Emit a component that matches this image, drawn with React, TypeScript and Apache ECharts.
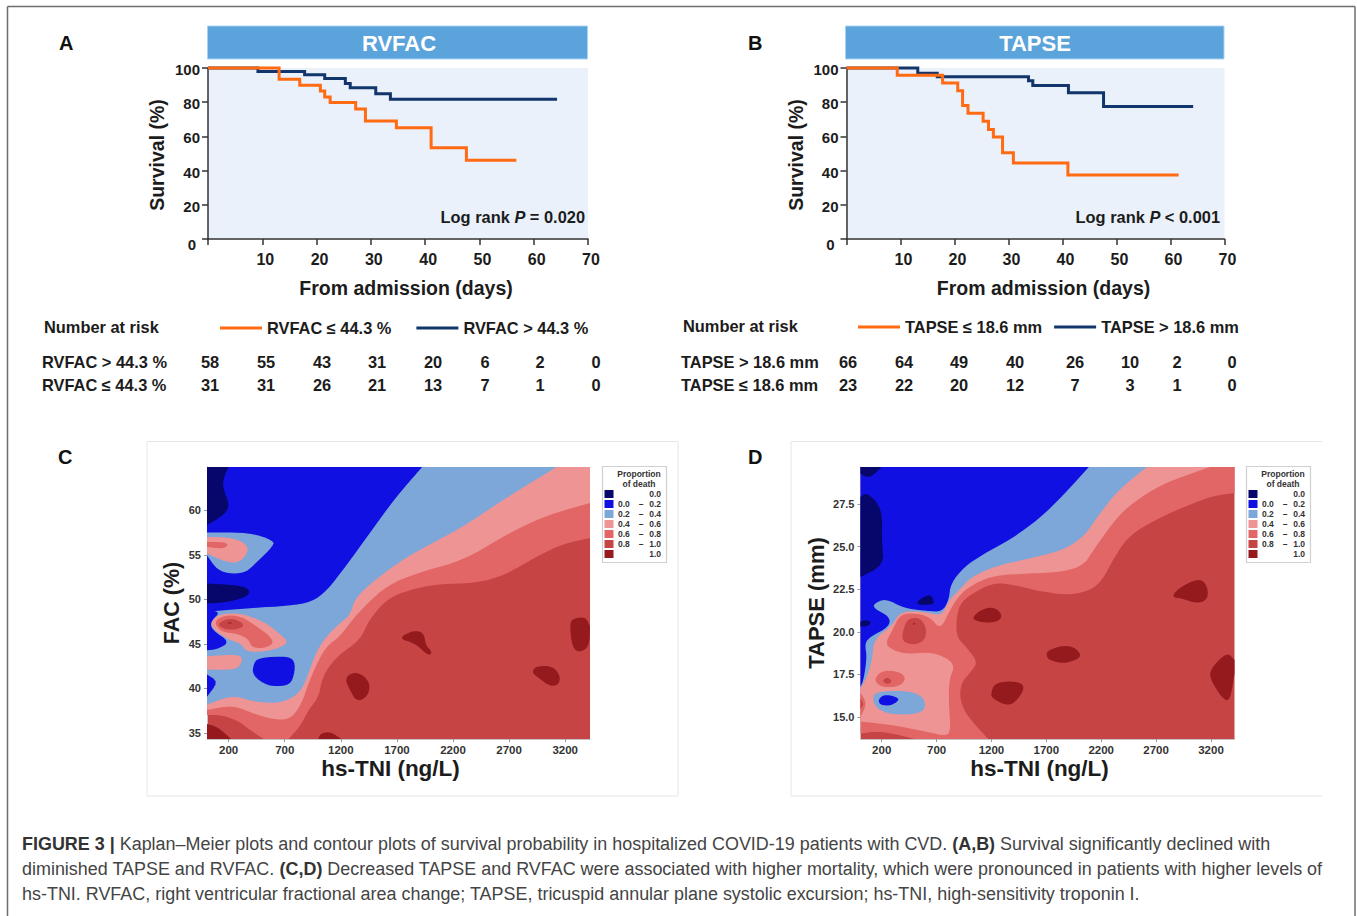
import React, { useEffect, useRef } from "react";
import * as echarts from "echarts";

const FONT = "Liberation Sans";
const INK = "#1c1c1c";
const ORANGE = "#FF6A13";
const NAVY = "#12366B";
const BANDS = ["#07076B", "#1010E3", "#7DA7D9", "#EE9494", "#E36666", "#C64444", "#941A1E"];

// Kaplan-Meier curves: [day, survival %]
const A_LOW: number[][] = [[0,100],[13.1,93.4],[16.9,89.9],[20.7,86.6],[21.5,83],[22.5,79.8],[27.2,76],[29,69],[34.7,65],[41.1,53.3],[47.6,46.1],[56.8,46.1]];
const A_HIGH: number[][] = [[0,100],[9.2,98],[17.8,96],[21.5,93.8],[25.3,90.9],[26.2,88.5],[30.9,85],[33.6,81.7],[64.3,81.7]];
const B_LOW: number[][] = [[0,100],[9.4,95.7],[17.8,91.2],[20.6,86.7],[21.5,78.1],[22.5,73.6],[25.3,68.9],[26.3,64],[27.2,59.6],[28.9,50.4],[30.9,44.5],[41,37.5],[61.5,37.5]];
const B_HIGH: number[][] = [[0,100],[13.2,96.9],[16.8,94.9],[33.7,92.6],[34.5,89.8],[41.1,85.5],[47.6,77.5],[64.2,77.5]];

// Numbers at risk
const A_RISK_HIGH = ["58","55","43","31","20","6","2","0"];
const A_RISK_LOW = ["31","31","26","21","13","7","1","0"];
const B_RISK_HIGH = ["66","64","49","40","26","10","2","0"];
const B_RISK_LOW = ["23","22","20","12","7","3","1","0"];
const A_COLS = [210,266,322,377,433,485,540,596];
const B_COLS = [848,904,959,1015,1075,1130,1177,1232];

// Contour bands: [hs-TNI, FAC]; painted in order over the 0.8-1.0 background
const C_XMIN = 7, C_XMAX = 3421, C_YMIN = 34.33, C_YMAX = 64.86;
const C_06 = [[3421,56.9],[3184,56.26],[2938,54.77],[2662,52.71],[2417,51.85],[2048,51.7],[1803,51.03],[1618,50.1],[1449,47.67],[1373,45.43],[1158,43.56],[1035,41.32],[1004,39.07],[912,37.58],[835,35.71],[734,34.33],[513,34.33],[390,35.34],[298,36.27],[145,37.02],[7,37.02],[7,64.86],[3421,64.86]];
const C_04 = [[3421,60.82],[3031,59.44],[2662,57.2],[2294,54.39],[1864,52.9],[1618,51.59],[1434,49.54],[1311,47.85],[1189,45.8],[1066,44.68],[974,42.44],[912,40.57],[851,38.33],[759,36.64],[636,36.46],[452,37.02],[237,38.14],[7,37.58],[7,64.86],[3421,64.86]];
const C_02 = [[3123,64.86],[2662,61.31],[2263,57.94],[1864,55.33],[1680,53.83],[1465,51.78],[1327,50.1],[1281,48.23],[1204,47.48],[1066,45.8],[974,43.93],[912,41.69],[851,39.82],[759,38.89],[636,38.33],[421,38.51],[237,39.26],[7,38.21],[7,64.86]];
const C_00 = [[1925,64.86],[1680,61.31],[1434,57.01],[1250,53.83],[1081,51.03],[943,49.72],[728,49.27],[421,49.05],[7,48.6],[7,64.86]];
const C_ISLE_LIGHT = [[7,57.5],[390,57.5],[590,56.64],[605,56.08],[452,54.21],[360,53.09],[237,52.83],[99,53.27],[7,54.96]];
const C_ISLE_SALMON = [[7,57.01],[237,56.94],[375,56.08],[360,54.96],[283,54.1],[175,54.21],[7,55.14]];
const C_ISLE_RED = [[7,56.45],[160,56.45],[200,56.08],[145,55.67],[7,55.89]];
const C_NAVY_TOP = [[7,64.86],[200,64.86],[145,63.36],[160,62.06],[206,60.75],[175,59.63],[7,58.32]];
const C_NAVY_MID = [[7,51.78],[298,51.59],[396,51.03],[360,50.28],[175,49.65],[7,49.54]];
const C_BLUE_WEDGE = [[7,48.79],[129,48.6],[37,47.48],[53,46.55],[212,45.24],[99,44.38],[7,44.3]];
const C_SALMON_A = [[37,47.48],[129,48.42],[329,48.42],[544,47.29],[667,45.99],[737,45.16],[605,44.3],[360,44.01],[314,45.05],[206,45.43],[68,46.55]];
const C_RED_A = [[68,47.48],[160,48.23],[314,48.12],[452,46.92],[559,45.99],[605,45.05],[513,44.49],[406,44.6],[375,45.61],[268,46.17],[129,46.36]];
const C_DARK_A = [[99,47.29],[206,47.93],[314,47.48],[338,46.92],[237,46.55],[145,46.73]];
const C_DOT_A = [[188,47.44],[240,47.37],[200,47.26]];
const C_SALMON_B = [[7,43.63],[314,43.86],[320,42.81],[252,42.06],[7,42.14]];
const C_BLUE_B = [[467,43.48],[743,43.63],[796,42.81],[774,40.94],[713,40.27],[544,40.27],[412,41.5],[421,42.74]];
const C_BLUE_C = [[7,41.58],[108,40.75],[7,39.07]];
const C_PEAK_1 = [[1235,41.13],[1311,41.84],[1403,41.5],[1465,40.38],[1434,39.07],[1342,38.51],[1281,39.82]];
const C_PEAK_2 = [[1710,45.61],[1849,46.55],[1941,46.25],[1956,44.87],[2008,44.23],[2002,43.74],[1956,43.93],[1864,45.05]];
const C_PEAK_3 = [[3239,47.29],[3276,47.86],[3384,48.04],[3421,46.92],[3414,44.68],[3322,44.01],[3261,44.68]];
const C_PEAK_4 = [[2902,41.8],[2938,42.51],[3092,42.51],[3159,41.32],[3138,40.38],[3061,40.27],[2969,41.13]];
const C_PEAK_5 = [[998,34.33],[1020,34.96],[1112,35.15],[1204,34.33]];
const C_PEAK_6 = [[7,36.01],[99,35.71],[221,34.33],[7,34.33]];
const C_LAYERS: [number, number[][]][] = [
  [4,C_06],[3,C_04],[2,C_02],[1,C_00],
  [2,C_ISLE_LIGHT],[3,C_ISLE_SALMON],[4,C_ISLE_RED],
  [0,C_NAVY_TOP],[0,C_NAVY_MID],[1,C_BLUE_WEDGE],
  [3,C_SALMON_A],[4,C_RED_A],[5,C_DARK_A],[6,C_DOT_A],
  [3,C_SALMON_B],[1,C_BLUE_B],[1,C_BLUE_C],
  [6,C_PEAK_1],[6,C_PEAK_2],[6,C_PEAK_3],[6,C_PEAK_4],[6,C_PEAK_5],[6,C_PEAK_6],
];

// Contour bands: [hs-TNI, TAPSE]
const D_XMIN = 7, D_XMAX = 3414, D_YMIN = 13.71, D_YMAX = 29.67;
const D_06 = [[3414,28.14],[3221,28],[2879,27.13],[2630,26.35],[2444,25.57],[2320,24.39],[2211,23.03],[2102,22.44],[1916,22.15],[1667,22.34],[1418,22.73],[1232,22.89],[1076,22.44],[921,21.76],[881,20.88],[881,19.71],[968,19.12],[1076,18.24],[1014,17.66],[921,16.97],[912,16],[983,15.02],[1170,13.71],[501,13.71],[206,14.18],[7,14.04],[7,29.67],[3414,29.67]];
const D_04 = [[3190,29.67],[2755,28.69],[2475,27.52],[2320,26.54],[2118,24.69],[2040,23.91],[1853,23.52],[1543,23.42],[1232,23.32],[1045,22.83],[921,22.25],[828,21.37],[735,20.1],[641,20.88],[486,21.11],[362,20.98],[299,20.1],[231,19.32],[299,18.93],[424,18.69],[672,18.83],[874,18.14],[812,17.17],[812,15.61],[828,14.43],[803,13.85],[610,14.14],[299,14.53],[7,14.73],[7,29.67]];
const D_02 = [[2615,29.67],[2351,28.3],[2164,26.74],[2040,25.57],[1853,24.79],[1543,24.3],[1232,23.85],[1014,23.22],[906,22.44],[812,21.86],[750,20.98],[657,21.07],[501,21.23],[362,21.11],[299,20.39],[129,19.57],[113,18.34],[66,17.36],[7,16.68],[7,29.67]];
const D_00 = [[2087,29.67],[1853,28.01],[1636,26.64],[1387,25.47],[1108,24.49],[952,23.81],[828,22.83],[812,21.86],[750,21.17],[610,21.23],[408,21.37],[237,21.95],[129,21.66],[129,21.37],[275,20.88],[268,20.29],[97,19.71],[45,19.32],[66,18.54],[35,17.17],[7,16.78],[7,29.67]];
const D_LIGHT = [[113,16.29],[206,16.52],[486,16.52],[604,16],[579,15.21],[299,15.12],[144,15.51]];
const D_BLUE = [[166,16],[222,16.33],[331,16.19],[362,16],[284,15.66],[191,15.7]];
const D_RED = [[129,17.21],[206,17.75],[362,17.66],[424,17.27],[362,16.78],[191,16.74]];
const D_RED_CORE = [[206,17.13],[253,17.36],[299,17.07],[244,16.91]];
const D_DARK = [[393,20.1],[439,20.78],[548,20.84],[610,20.2],[595,19.51],[501,19.22],[386,19.41]];
const D_DOT = [[480,20.5],[510,20.52],[490,20.38]];
const D_NAVY_1 = [[7,29.67],[200,29.67],[88,28.98],[7,29.28]];
const D_NAVY_2 = [[66,28.2],[206,27.23],[200,25.37],[222,23.91],[7,23.22],[7,27.91]];
const D_NAVY_3 = [[492,21.66],[641,22.28],[688,21.66],[610,21.56]];
const D_NAVY_4 = [[7,20.59],[57,20.72],[113,20.53],[57,20.29],[7,20.33]];
const D_PEAK_1 = [[1008,20.78],[1123,21.37],[1232,21.43],[1300,20.98],[1263,20.59],[1123,20.53]];
const D_PEAK_2 = [[1704,18.93],[1916,19.28],[2040,18.57],[1885,18.14],[1776,18.24],[1704,18.44]];
const D_PEAK_3 = [[2832,22.05],[2941,22.73],[3112,23.16],[3174,22.54],[3165,21.86],[3066,21.66],[2941,21.95]];
const D_PEAK_4 = [[3184,17.75],[3346,18.83],[3414,18.34],[3414,17.56],[3376,16],[3314,16],[3205,17.07]];
const D_PEAK_5 = [[1195,16.39],[1232,17.03],[1434,17.11],[1505,16.78],[1449,16.09],[1356,15.61],[1207,16.09]];
const D_EDGE_RED = [[7,16.43],[66,15.8],[7,15.02]];
const D_EDGE_CORE = [[7,16.09],[35,15.76],[7,15.45]];
const D_LAYERS: [number, number[][]][] = [
  [4,D_06],[3,D_04],[2,D_02],[1,D_00],
  [2,D_LIGHT],[1,D_BLUE],[4,D_RED],[5,D_RED_CORE],[5,D_DARK],[6,D_DOT],
  [0,D_NAVY_1],[0,D_NAVY_2],[0,D_NAVY_3],[0,D_NAVY_4],
  [6,D_PEAK_1],[6,D_PEAK_2],[6,D_PEAK_3],[6,D_PEAK_4],[6,D_PEAK_5],
  [4,D_EDGE_RED],[5,D_EDGE_CORE],
];

const TNI_TICKS = [200,700,1200,1700,2200,2700,3200];
const C_Y_TICKS = [35,40,45,50,55,60];
const D_Y_TICKS = [15,17.5,20,22.5,25,27.5];
const LEGEND_LOW = ["","0.0","0.2","0.4","0.6","0.8",""];
const LEGEND_HIGH = ["0.0","0.2","0.4","0.6","0.8","1.0","1.0"];

const CAPTION_1 = "{b|FIGURE 3 |} Kaplan–Meier plots and contour plots of survival probability in hospitalized COVID-19 patients with CVD. {b|(A,B)} Survival significantly declined with";
const CAPTION_2 = "diminished TAPSE and RVFAC. {b|(C,D)} Decreased TAPSE and RVFAC were associated with higher mortality, which were pronounced in patients with higher levels of";
const CAPTION_3 = "hs-TNI. RVFAC, right ventricular fractional area change; TAPSE, tricuspid annular plane systolic excursion; hs-TNI, high-sensitivity troponin I.";

const txt = (text: string, x: number, y: number, size: number, extra: any = {}) => ({
  type: "text", x, y, silent: true,
  style: { text, fontFamily: FONT, fontSize: size, fontWeight: "bold", fill: INK, align: "left", verticalAlign: "middle", ...extra },
});

function kmAxes(gridIndex: number, name: string) {
  const line = { show: true, lineStyle: { color: "#333", width: 1.5 } };
  const tick = { show: true, length: 6, lineStyle: { color: "#333", width: 1.5 } };
  const num = { fontFamily: FONT, fontSize: 15, fontWeight: "bold", color: INK };
  return {
    x: {
      type: "value", gridIndex, min: 0, max: 70, interval: 10, splitLine: { show: false },
      axisLine: line, axisTick: tick,
      axisLabel: { margin: 12, padding: [0, 0, 0, 6], fontFamily: FONT, fontSize: 16, fontWeight: "bold", color: INK, formatter: (v: number) => (v === 0 ? "" : String(v)) },
      name: "From admission (days)", nameLocation: "middle", nameGap: 39,
      nameTextStyle: { fontFamily: FONT, fontSize: 19.5, fontWeight: "bold", color: INK, padding: [0, 0, 0, 16] },
    },
    y: {
      type: "value", gridIndex, min: 0, max: 100, interval: 20, splitLine: { show: false },
      axisLine: line, axisTick: tick,
      axisLabel: {
        margin: 8, ...num, padding: [3, 0, 0, 0],
        formatter: (v: number) => (v === 0 ? "{z|0}" : String(v)),
        rich: { z: { ...num, padding: [7, 4, 0, 0] } },
      },
      name, nameLocation: "middle", nameGap: 41, nameRotate: 90,
      nameTextStyle: { fontFamily: FONT, fontSize: 19.5, fontWeight: "bold", color: INK, padding: [0, 3, 0, 0] },
    },
  };
}

function contourAxes(gridIndex: number, xMin: number, xMax: number, yMin: number, yMax: number, yTicks: number[], name: string, gap: number, nameSize: number, fmt: (v: number) => string) {
  const line = { show: true, lineStyle: { color: "#c4c4c4", width: 1 } };
  const tick = { show: true, length: 3, lineStyle: { color: "#999", width: 1 } };
  return {
    x: {
      type: "value", gridIndex, min: xMin, max: xMax, splitLine: { show: false }, axisLine: line,
      axisTick: { ...tick, customValues: TNI_TICKS },
      axisLabel: { customValues: TNI_TICKS, margin: 5, fontFamily: FONT, fontSize: 11.5, fontWeight: "bold", color: "#333", formatter: (v: number) => String(v) },
      name: "hs-TNI (ng/L)", nameLocation: "middle", nameGap: 18,
      nameTextStyle: { fontFamily: FONT, fontSize: 22.5, fontWeight: "bold", color: INK, padding: [0, 16, 0, 0] },
    },
    y: {
      type: "value", gridIndex, min: yMin, max: yMax, splitLine: { show: false }, axisLine: line,
      axisTick: { ...tick, customValues: yTicks },
      axisLabel: { customValues: yTicks, margin: 6, fontFamily: FONT, fontSize: 11, fontWeight: "bold", color: "#333", formatter: fmt },
      name, nameLocation: "middle", nameGap: gap, nameRotate: 90,
      nameTextStyle: { fontFamily: FONT, fontSize: nameSize, fontWeight: "bold", color: INK },
    },
  };
}

function kmSeries(name: string, data: number[][], color: string, axis: number, z: number) {
  return {
    type: "line", name, data, step: "end", symbol: "none", showSymbol: false, xAxisIndex: axis, yAxisIndex: axis, z,
    lineStyle: { color, width: 3, join: "miter" }, itemStyle: { color }, clip: false,
  };
}

// Rounds the outlines (corner cutting) while keeping vertices that lie on the plot's edge.
function rounded(points: number[][], pinned: boolean[]): number[][] {
  let pts = points, pin = pinned;
  for (let iter = 0; iter < 2; iter++) {
    const np: number[][] = [], nf: boolean[] = [];
    pts.forEach((p, i) => {
      if (pin[i]) { np.push(p); nf.push(true); return; }
      const a = pts[(i - 1 + pts.length) % pts.length], b = pts[(i + 1) % pts.length];
      np.push([p[0] * 0.75 + a[0] * 0.25, p[1] * 0.75 + a[1] * 0.25]); nf.push(false);
      np.push([p[0] * 0.75 + b[0] * 0.25, p[1] * 0.75 + b[1] * 0.25]); nf.push(false);
    });
    pts = np; pin = nf;
  }
  return pts;
}

function contourSeries(layers: [number, number[][]][], axis: number, xMin: number, xMax: number, yMin: number, yMax: number) {
  return {
    type: "custom", xAxisIndex: axis, yAxisIndex: axis, silent: true, clip: true,
    data: layers.map((l, i) => [l[1][0][0], l[1][0][1], i]),
    encode: { x: 0, y: 1 },
    renderItem: (_p: any, api: any) => {
      const layer = layers[api.value(2)];
      const pinned = layer[1].map((pt) => pt[0] <= xMin || pt[0] >= xMax || pt[1] <= yMin || pt[1] >= yMax);
      return {
        type: "polygon",
        shape: { points: rounded(layer[1].map((pt) => api.coord(pt)), pinned) },
        style: { fill: BANDS[layer[0]], stroke: null },
      };
    },
  };
}

function legendBox(dx: number) {
  const out: any[] = [
    { type: "rect", shape: { x: 602.5 + dx, y: 466.5, width: 64, height: 96 }, style: { fill: "#fff", stroke: "#d0d0d0", lineWidth: 1.2 }, silent: true },
    txt("Proportion", 639 + dx, 473.5, 8.5, { align: "center", fill: "#333" }),
    txt("of death", 639 + dx, 484, 8.5, { align: "center", fill: "#333" }),
  ];
  LEGEND_HIGH.forEach((hi, i) => {
    const y = 494 + i * 10;
    out.push({ type: "rect", shape: { x: 604.5 + dx, y: y - 4, width: 9, height: 8 }, style: { fill: BANDS[i] }, silent: true });
    if (LEGEND_LOW[i]) {
      out.push(txt(LEGEND_LOW[i], 618 + dx, y, 8.5, { fill: "#333" }));
      out.push(txt("–", 641 + dx, y, 8.5, { align: "center", fill: "#333" }));
    }
    out.push(txt(hi, 661 + dx, y, 8.5, { align: "right", fill: "#333" }));
  });
  return out;
}

function riskRows(label1: string, label2: string, lx: number, cols: number[], r1: string[], r2: string[]) {
  const out: any[] = [txt(label1, lx, 361.5, 16.4), txt(label2, lx, 385, 16.4)];
  cols.forEach((x, i) => {
    out.push(txt(r1[i], x, 362, 16.4, { align: "center" }));
    out.push(txt(r2[i], x, 385, 16.4, { align: "center" }));
  });
  return out;
}

const capRich = {
  b: { fontFamily: FONT, fontSize: 17.95, fontWeight: "bold", fill: "#333" },
};
const caption = (t: string, y: number) => ({
  type: "text", x: 22, y, silent: true,
  style: { text: t, rich: capRich, fontFamily: FONT, fontSize: 17.95, fill: "#444", verticalAlign: "middle", align: "left" },
});

function logRank(op: string, x: number) {
  const base = { fontFamily: FONT, fontSize: 16.4, fontWeight: "bold", fill: INK };
  return {
    type: "text", x, y: 217, silent: true,
    style: {
      text: `{a|Log rank }{i|P}{a| ${op}}`, align: "right", verticalAlign: "middle", ...base,
      rich: { a: base, i: { ...base, fontStyle: "italic" } },
    },
  };
}

const frameLine = (x1: number, y1: number, x2: number, y2: number, stroke: string, w: number) => ({
  type: "line", shape: { x1, y1, x2, y2 }, style: { stroke, lineWidth: w }, silent: true,
});

export default function App() {
  const ref = useRef<HTMLDivElement>(null);
  useEffect(() => {
    const chart = echarts.init(ref.current!, undefined, { renderer: "svg" });
    const a = kmAxes(0, "Survival (%)");
    const b = kmAxes(1, "Survival (%)");
    const c = contourAxes(2, C_XMIN, C_XMAX, C_YMIN, C_YMAX, C_Y_TICKS, "FAC (%)", 24, 21.5, (v) => String(v));
    const d = contourAxes(3, D_XMIN, D_XMAX, D_YMIN, D_YMAX, D_Y_TICKS, "TAPSE (mm)", 33, 22, (v) => v.toFixed(1));
    const legendBase = {
      orient: "horizontal", itemWidth: 42, itemHeight: 3, selectedMode: false, padding: 0,
      textStyle: { fontFamily: FONT, fontSize: 16.4, fontWeight: "bold", color: INK },
    };
    const item = (name: string) => ({ name, icon: "rect" });
    chart.setOption({
      animation: false,
      backgroundColor: "#fff",
      textStyle: { fontFamily: FONT },
      grid: [
        { left: 208, top: 68, width: 380, height: 171, show: true, backgroundColor: "#EAF1FA", borderWidth: 0 },
        { left: 846.5, top: 68, width: 378, height: 171, show: true, backgroundColor: "#EAF1FA", borderWidth: 0 },
        { left: 207, top: 467, width: 383, height: 272, show: true, backgroundColor: BANDS[5], borderWidth: 0 },
        { left: 860.5, top: 467, width: 374, height: 272, show: true, backgroundColor: BANDS[5], borderWidth: 0 },
      ],
      xAxis: [a.x, b.x, c.x, d.x],
      yAxis: [a.y, b.y, c.y, d.y],
      legend: [
        { ...legendBase, left: 220, top: 320, itemGap: 25, data: [item("RVFAC ≤ 44.3 %"), item("RVFAC > 44.3 %")] },
        { ...legendBase, left: 858, top: 319, itemGap: 12, data: [item("TAPSE ≤ 18.6 mm"), item("TAPSE > 18.6 mm")] },
      ],
      series: [
        kmSeries("RVFAC > 44.3 %", A_HIGH, NAVY, 0, 2),
        kmSeries("RVFAC ≤ 44.3 %", A_LOW, ORANGE, 0, 3),
        kmSeries("TAPSE > 18.6 mm", B_HIGH, NAVY, 1, 2),
        kmSeries("TAPSE ≤ 18.6 mm", B_LOW, ORANGE, 1, 3),
        contourSeries(C_LAYERS, 2, C_XMIN, C_XMAX, C_YMIN, C_YMAX),
        contourSeries(D_LAYERS, 3, D_XMIN, D_XMAX, D_YMIN, D_YMAX),
      ],
      graphic: {
        elements: [
          frameLine(7.5, 6.5, 7.5, 916, "#6e6e6e", 1.5),
          frameLine(7.5, 6.5, 1355, 6.5, "#6e6e6e", 1.5),
          frameLine(1355, 6.5, 1355, 916, "#6e6e6e", 1.5),
          { type: "rect", shape: { x: 207.5, y: 26, width: 380, height: 33 }, style: { fill: "#5BA3DB", stroke: "#A9D2F2", lineWidth: 1 }, silent: true },
          { type: "rect", shape: { x: 845.5, y: 26, width: 378.5, height: 33 }, style: { fill: "#5BA3DB", stroke: "#A9D2F2", lineWidth: 1 }, silent: true },
          txt("RVFAC", 399, 43, 22, { align: "center", fill: "#fff" }),
          txt("TAPSE", 1035, 43, 22, { align: "center", fill: "#fff" }),
          txt("A", 59, 43, 20, { fill: "#111" }),
          txt("B", 748, 43, 20, { fill: "#111" }),
          txt("C", 58, 457, 20, { fill: "#111" }),
          txt("D", 748, 457, 20, { fill: "#111" }),
          logRank("= 0.020", 585),
          logRank("< 0.001", 1220),
          txt("Number at risk", 44, 327, 16.4),
          txt("Number at risk", 683, 326, 16.4),
          ...riskRows("RVFAC > 44.3 %", "RVFAC ≤ 44.3 %", 42, A_COLS, A_RISK_HIGH, A_RISK_LOW),
          ...riskRows("TAPSE > 18.6 mm", "TAPSE ≤ 18.6 mm", 681, B_COLS, B_RISK_HIGH, B_RISK_LOW),
          frameLine(147, 441.5, 678, 441.5, "#e6e6e6", 1),
          frameLine(147, 796, 678, 796, "#e6e6e6", 1),
          frameLine(147, 441.5, 147, 796, "#e6e6e6", 1),
          frameLine(678, 441.5, 678, 796, "#e6e6e6", 1),
          frameLine(791, 441.5, 1322, 441.5, "#e6e6e6", 1),
          frameLine(791, 796, 1322, 796, "#e6e6e6", 1),
          frameLine(791, 441.5, 791, 796, "#e6e6e6", 1),
          ...legendBox(0),
          ...legendBox(644),
          caption(CAPTION_1, 844),
          caption(CAPTION_2, 869),
          caption(CAPTION_3, 894),
        ],
      },
    });
    return () => chart.dispose();
  }, []);
  return <div ref={ref} style={{ position: "absolute", left: 0, top: 0, width: 1357, height: 916 }} />;
}
